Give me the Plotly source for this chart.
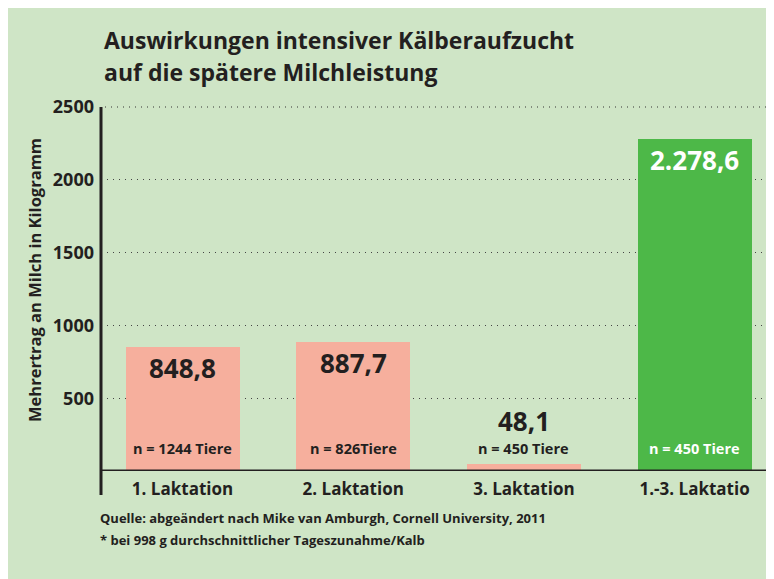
import plotly.graph_objects as go

categories = ["1. Laktation", "2. Laktation", "3. Laktation", "1.-3. Laktatio"]
values = [848.8, 887.7, 48.1, 2278.6]
value_labels = ["848,8", "887,7", "48,1", "2.278,6"]
n_labels = ["n = 1244 Tiere", "n = 826Tiere", "n = 450 Tiere", "n = 450 Tiere"]
y_ticks = [500, 1000, 1500, 2000, 2500]

BG = "#cfe5c6"
PINK = "#f6af9d"
GREEN = "#4db848"
DARK = "#231f20"
FONT = "Open Sans"

bar_colors = [PINK, PINK, PINK, GREEN]
xs = list(range(len(categories)))

# page body has an 8px margin; figure is placed at (8, 8)
OFF = 8
W, H = 774 - OFF, 579 - OFF
L, R, T, B = 93, 7, 99, 108
pw = W - L - R
ph = H - T - B
Y_MAX = 2500


def px(xr):
    return (xr - OFF - L) / pw


def py(yr):
    return (H - B - (yr - OFF)) / ph


fig = go.Figure()
fig.add_trace(go.Bar(
    x=xs, y=values, marker=dict(color=bar_colors, line=dict(width=0)),
    width=0.668, hoverinfo="skip",
))

annotations = []
for i, (v, lab, nl) in enumerate(zip(values, value_labels, n_labels)):
    col = "white" if i == 3 else DARK
    if v > 300:
        annotations.append(dict(x=i, y=v, xref="x", yref="y", text=lab, showarrow=False,
                                yanchor="middle", yshift=-21,
                                font=dict(family=FONT, size=26, color=col, weight="bold")))
    else:
        annotations.append(dict(x=i, y=0, xref="x", yref="y", text=lab, showarrow=False,
                                yanchor="middle", yshift=50,
                                font=dict(family=FONT, size=26, color=col, weight="bold")))
    annotations.append(dict(x=i, y=0, xref="x", yref="y", text=nl, showarrow=False,
                            yanchor="middle", yshift=23,
                            font=dict(family=FONT, size=14.5, color=col, weight="bold")))

# title
annotations.append(dict(x=px(102), y=py(40), xref="paper", yref="paper",
                        text="Auswirkungen intensiver Kälberaufzucht",
                        showarrow=False, xanchor="left", yanchor="middle",
                        font=dict(family=FONT, size=23, color=DARK, weight="bold")))
annotations.append(dict(x=px(102), y=py(72), xref="paper", yref="paper",
                        text="auf die spätere Milchleistung",
                        showarrow=False, xanchor="left", yanchor="middle",
                        font=dict(family=FONT, size=23, color=DARK, weight="bold")))
# y axis title
annotations.append(dict(x=px(34), y=py(280), xref="paper", yref="paper",
                        text="Mehrertrag an Milch in Kilogramm", textangle=-90, showarrow=False,
                        xanchor="center", yanchor="middle",
                        font=dict(family=FONT, size=16.5, color=DARK, weight="bold")))
# footer
annotations.append(dict(x=px(98), y=py(518), xref="paper", yref="paper",
                        text="Quelle: abgeändert nach Mike van Amburgh, Cornell University, 2011",
                        showarrow=False, xanchor="left", yanchor="middle",
                        font=dict(family=FONT, size=13, color=DARK, weight="bold")))
annotations.append(dict(x=px(98), y=py(540), xref="paper", yref="paper",
                        text="* bei 998 g durchschnittlicher Tageszunahme/Kalb",
                        showarrow=False, xanchor="left", yanchor="middle",
                        font=dict(family=FONT, size=13, color=DARK, weight="bold")))

shapes = [
    # top gridline at the range edge (paper ref so it is not clipped)
    dict(type="line", xref="paper", yref="paper", x0=0.006, x1=1, y0=1, y1=1,
         line=dict(color="#333333", width=1.2, dash="1px,5px"), layer="above"),
    # x axis line
    dict(type="line", xref="paper", yref="y", x0=0, x1=1, y0=0, y1=0, line=dict(color=DARK, width=3)),
    # y axis line
    dict(type="line", xref="paper", yref="paper", x0=0, x1=0, y0=py(495), y1=1,
         line=dict(color=DARK, width=3)),
]

fig.update_layout(
    width=W, height=H,
    margin=dict(l=L, r=R, t=T, b=B),
    paper_bgcolor=BG, plot_bgcolor=BG,
    showlegend=False,
    annotations=annotations,
    shapes=shapes,
    bargap=0,
    xaxis=dict(range=[-0.4775, 3.424], tickvals=xs, ticktext=categories, showgrid=False,
               zeroline=False, showline=False, ticks="", ticklabelstandoff=6,
               tickfont=dict(family=FONT, size=17, color=DARK, weight="bold"), fixedrange=True),
    yaxis=dict(range=[0, Y_MAX], tickvals=y_ticks, showgrid=True, gridcolor="#444444", gridwidth=1,
               griddash="1px,5px", zeroline=False, showline=False, ticks="", ticklabelstandoff=6,
               tickfont=dict(family=FONT, size=18, color=DARK, weight="bold"), fixedrange=True),
)

fig.write_html("out.html")
